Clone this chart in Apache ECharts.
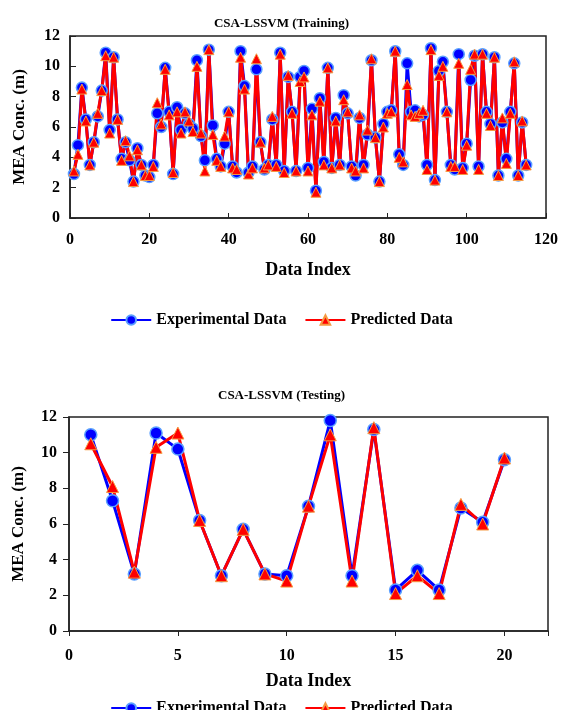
<!DOCTYPE html>
<html lang="en">
<head>
    <meta charset="UTF-8">
    <title>CSA-LSSVM</title>
    <style>
        *{
            padding:0;
            margin:0;
        }
    </style>
</head>
<script src="https://cdn.jsdelivr.net/npm/echarts@6/dist/echarts.min.js"></script>
<body>
    <div id="main" style="width: 563px;height: 710px;"></div>
    <script>
        // training set (index 1..115)
        var trainExp = [2.9,4.8,8.6,6.5,3.5,5.0,6.7,8.4,10.9,5.8,10.6,6.5,3.9,5.0,3.8,2.4,4.6,3.5,2.8,2.7,
            3.5,6.9,6.0,9.9,7.0,2.9,7.3,5.8,6.9,6.2,5.9,10.4,5.4,3.8,11.1,6.1,3.9,3.4,4.9,7.0,
            3.4,3.0,11.0,8.7,3.0,3.4,9.8,5.0,3.2,3.5,6.5,3.5,10.9,3.1,9.3,7.0,3.1,9.3,9.7,3.3,
            7.2,1.8,7.9,3.7,9.9,3.3,6.6,3.5,8.1,6.9,3.4,2.8,6.6,3.5,5.5,10.4,5.3,2.4,6.2,7.0,
            7.1,11.0,4.2,3.5,10.2,7.0,7.1,6.7,6.8,3.5,11.2,2.5,9.7,10.3,7.0,3.5,3.2,10.8,3.3,4.9,
            9.1,10.7,3.4,10.8,7.0,6.2,10.6,2.8,6.3,3.9,7.0,10.2,2.8,6.3,3.5];
        var trainPred = [3.1,4.2,8.5,6.4,3.5,5.0,6.9,8.4,10.7,5.6,10.6,6.5,3.8,5.1,4.1,2.4,4.5,3.5,2.8,2.8,
            3.4,7.6,6.2,9.8,6.8,3.0,7.0,5.6,7.0,6.4,5.7,10.0,5.6,3.1,11.1,5.5,3.8,3.4,5.4,7.0,
            3.3,3.2,10.6,8.5,2.9,3.3,10.5,5.0,3.3,3.5,6.7,3.4,10.8,3.0,9.4,6.9,3.1,9.0,9.3,3.1,
            6.8,1.7,7.7,3.5,9.9,3.3,6.4,3.5,7.8,7.0,3.3,3.1,6.8,3.3,5.8,10.5,5.3,2.4,6.0,6.9,
            7.0,11.0,4.0,3.7,8.8,6.8,6.7,6.9,7.1,3.2,11.1,2.5,9.4,10.0,7.0,3.4,3.4,10.2,3.2,4.8,
            9.8,10.8,3.2,10.8,6.9,6.1,10.6,2.8,6.6,3.6,6.9,10.3,2.8,6.4,3.5];
        // testing set (index 1..20)
        var testExp = [11.0,7.3,3.2,11.1,10.2,6.2,3.1,5.7,3.2,3.1,7.0,11.8,3.1,11.3,2.3,3.4,2.3,6.9,6.1,9.6];
        var testPred = [10.5,8.1,3.3,10.3,11.1,6.2,3.1,5.7,3.2,2.8,7.0,11.0,2.8,11.4,2.1,3.1,2.1,7.1,6.0,9.7];
        var yTicks = [0, 2, 4, 6, 8, 10, 12];

        function pairs(arr) {
            var res = [];
            for (var i = 0; i < arr.length; i++) {
                res.push([i + 1, arr[i]]);
            }
            return res;
        }

        var font = "'Liberation Serif', 'Times New Roman', serif";
        var expName = 'Experimental Data';
        var predName = 'Predicted Data';

        function expSeries(idx, data, size) {
            return {
                name: expName,
                type: 'line',
                xAxisIndex: idx,
                yAxisIndex: idx,
                data: pairs(data),
                symbol: 'circle',
                symbolSize: size,
                lineStyle: { color: '#0000ff', width: 3 },
                itemStyle: { color: '#0000ff', borderColor: '#5aa0ff', borderWidth: 1.5 },
                animation: false
            };
        }
        function predSeries(idx, data, size) {
            return {
                name: predName,
                type: 'line',
                xAxisIndex: idx,
                yAxisIndex: idx,
                data: pairs(data),
                symbol: 'triangle',
                symbolSize: size,
                lineStyle: { color: '#ff0000', width: 3 },
                itemStyle: { color: '#ff0000', borderColor: '#f59a42', borderWidth: 1 },
                z: 3,
                animation: false
            };
        }
        function xAx(idx, max, interval, gap, margin) {
            return {
                type: 'value', gridIndex: idx, min: 0, max: max, interval: interval,
                name: 'Data Index', nameLocation: 'middle', nameGap: gap,
                nameTextStyle: { fontFamily: font, fontWeight: 'bold', fontSize: 18, color: '#000' },
                axisLine: { lineStyle: { color: '#222', width: 1.5 } },
                axisTick: { show: true, inside: idx === 0, length: 5, lineStyle: { color: '#222' } },
                axisLabel: {
                    fontFamily: font, fontWeight: 'bold', fontSize: 16, color: '#000', margin: margin,
                    formatter: function (v) { return v % interval === 0 ? v : ''; }
                },
                splitLine: { show: false }
            };
        }
        function yAx(idx) {
            return {
                type: 'value', gridIndex: idx, min: 0, max: 12, interval: 2,
                name: 'MEA Conc. (m)', nameLocation: 'middle', nameGap: 42,
                nameTextStyle: { fontFamily: font, fontWeight: 'bold', fontSize: 17, color: '#000' },
                axisLine: { lineStyle: { color: '#222', width: 1.5 } },
                axisTick: { show: true, inside: idx === 0, length: 6, lineStyle: { color: '#222' } },
                axisLabel: { fontFamily: font, fontWeight: 'bold', fontSize: 16, color: '#000', margin: idx === 0 ? 10 : 12,
                    formatter: function (v) { return yTicks.indexOf(v) >= 0 ? v : ''; } },
                splitLine: { show: false }
            };
        }
        function legend(top) {
            return {
                top: top, left: 'center', itemWidth: 40, itemHeight: 12, itemGap: 18,
                data: [expName, predName],
                textStyle: { fontFamily: font, fontWeight: 'bold', fontSize: 16, color: '#000' }
            };
        }

        var myChart = echarts.init(document.getElementById('main'));
        var option = {
            backgroundColor: '#fff',
            title: [
                { text: 'CSA-LSSVM (Training)', left: 'center', top: 12,
                  textStyle: { fontFamily: font, fontWeight: 'bold', fontSize: 13, color: '#000' } },
                { text: 'CSA-LSSVM (Testing)', left: 'center', top: 384,
                  textStyle: { fontFamily: font, fontWeight: 'bold', fontSize: 13, color: '#000' } }
            ],
            legend: [legend(307), legend(695)],
            grid: [
                { left: 70, right: 17, top: 36, height: 182, show: true, borderColor: '#222', borderWidth: 1.5 },
                { left: 69, right: 15, top: 417, height: 214, show: true, borderColor: '#222', borderWidth: 1.5 }
            ],
            xAxis: [xAx(0, 120, 20, 43, 14), xAx(1, 22, 5, 41, 17)],
            yAxis: [yAx(0), yAx(1)],
            series: [
                expSeries(0, trainExp, 11),
                predSeries(0, trainPred, 10),
                expSeries(1, testExp, 12),
                predSeries(1, testPred, 12)
            ]
        };
        myChart.setOption(option);
    </script>
</body>
</html>
